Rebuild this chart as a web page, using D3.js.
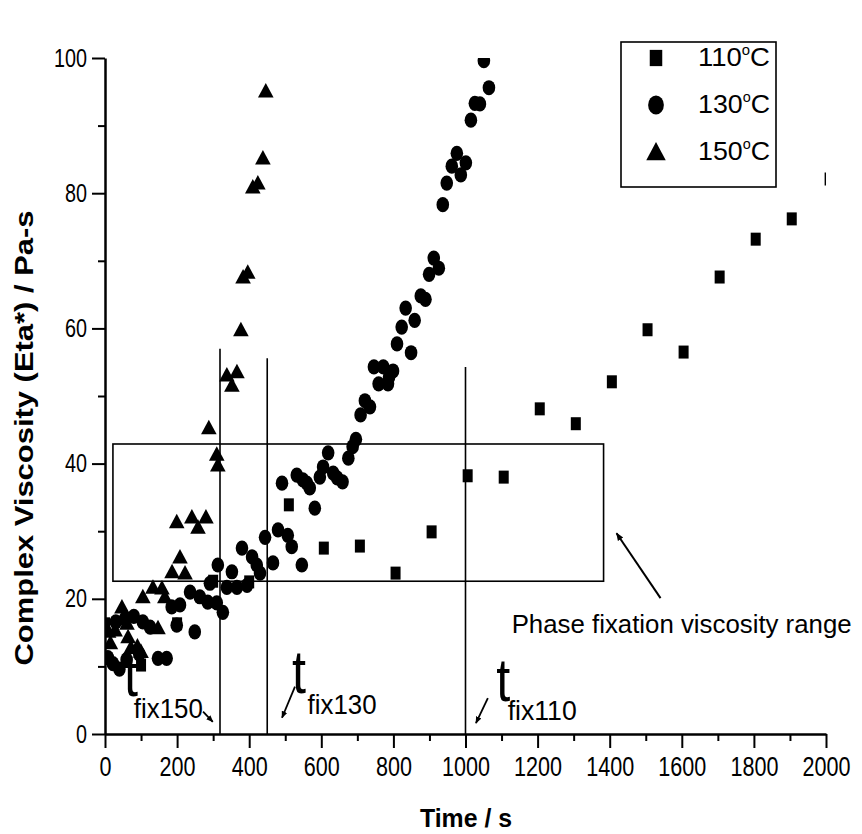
<!DOCTYPE html>
<html>
<head>
<meta charset="utf-8">
<script src="https://cdn.jsdelivr.net/npm/d3@7"></script>
<style>
  body { margin: 0; background: #fff; }
  svg text { font-family: "Liberation Sans", Arial, sans-serif; fill: #000; }
</style>
</head>
<body>
<div class="viscosity-viz"></div>
<script>
const WIDTH = 862,
    HEIGHT = 834;

// tick values
const xTickValues = [0, 200, 400, 600, 800, 1000, 1200, 1400, 1600, 1800, 2000];
const xMinorTicks = [100, 300, 500, 700, 900, 1100, 1300, 1500, 1700, 1900];
const yTickValues = [0, 20, 40, 60, 80, 100];
const yMinorTicks = [10, 30, 50, 70, 90];

// series: [time (s), complex viscosity (Pa-s)]
const seriesNames = ["110", "130", "150"];
const visc110 = [
    [0, 16.3], [100, 10.2], [200, 16.3], [300, 22.6], [400, 22.5], [510, 33.9],
    [607, 27.5], [707, 27.8], [806, 23.8], [906, 29.9], [1006, 38.2], [1106, 38.0],
    [1206, 48.1], [1306, 45.9], [1406, 52.1], [1505, 59.8], [1605, 56.5],
    [1705, 67.6], [1805, 73.2], [1905, 76.2], [2010, 82.1]
];
const visc130 = [
    [8, 11.3], [22, 10.4], [40, 9.6], [60, 11.0], [95, 11.8], [147, 11.2], [171, 11.2],
    [30, 16.6], [55, 17.0], [80, 17.4], [105, 16.6], [125, 15.8], [249, 15.1],
    [185, 18.8], [208, 19.1], [199, 16.1], [236, 21.0], [263, 20.3], [285, 19.5],
    [310, 19.4], [327, 18.0], [291, 22.3], [313, 25.0], [338, 21.7], [352, 24.0],
    [366, 21.7], [380, 27.5], [394, 22.0], [408, 26.2], [421, 25.0], [430, 23.8],
    [444, 29.1], [466, 25.3], [480, 30.2], [507, 29.4], [518, 27.7], [546, 25.0],
    [491, 37.1], [532, 38.3], [549, 37.6], [560, 37.1], [568, 36.4], [582, 33.4],
    [596, 38.0], [605, 39.5], [619, 41.6], [633, 38.6], [644, 37.9], [659, 37.3],
    [675, 40.8], [687, 42.5], [696, 43.6], [709, 47.2], [721, 49.3], [735, 48.4],
    [746, 54.3], [759, 51.8], [772, 54.3], [785, 51.8], [788, 52.8], [799, 53.7],
    [810, 57.7], [823, 60.2], [834, 63.0], [849, 56.4], [859, 61.2], [876, 64.8],
    [889, 64.3], [899, 68.0], [912, 70.4], [926, 68.9], [937, 78.3], [948, 81.5],
    [962, 84.0], [976, 85.9], [987, 82.7], [1001, 84.5], [1015, 90.8], [1026, 93.3],
    [1040, 93.2], [1065, 95.6], [1051, 99.6]
];
const visc150 = [
    [10, 15.2], [28, 15.4], [15, 13.5], [47, 18.8], [61, 16.4], [64, 14.4], [72, 12.8],
    [90, 13.0], [100, 12.2], [105, 20.3], [133, 21.7], [147, 15.7], [158, 21.6],
    [166, 20.3], [186, 24.0], [208, 26.2], [222, 23.8], [199, 31.4], [241, 32.1],
    [258, 30.6], [280, 32.1], [288, 45.3], [313, 39.8], [310, 41.4], [338, 53.1],
    [352, 51.6], [366, 53.6], [377, 59.8], [383, 67.6], [396, 68.3], [410, 80.9],
    [424, 81.5], [438, 85.2], [446, 95.1]
];

// annotations (data units)
const fixTimes = [319, 450, 1000];
const fixLineTops = [57.0, 55.6, 54.3];
const fixLabels = ["fix150", "fix130", "fix110"];
const fixLabelPos = [[53, 5.6, 80, 2.4], [519, 6.0, 562, 3.0], [1085, 4.9, 1117, 2.0]];
const fixArrows = [[272, 3.3, 299, 1.8], [527, 7.0, 491, 2.4], [1062, 5.3, 1029, 1.6]];
const rangeBox = [22, 1383, 22.6, 42.9];
const rangeArrow = [1541, 20.1, 1419, 29.7];
const rangeText = "Phase fixation viscosity range";

const svg = d3.select(".viscosity-viz")
    .append("svg")
    .attr("width", WIDTH)
    .attr("height", HEIGHT)
    .style("display", "block");

svg.append("rect").attr("width", WIDTH).attr("height", HEIGHT).attr("fill", "#fff");

const x = d3.scaleLinear().domain([0, 2000]).range([105, 826]);
const y = d3.scaleLinear().domain([0, 100]).range([734, 58]);

svg.append("defs").append("clipPath").attr("id", "plot-clip")
    .append("rect")
    .attr("x", x(0)).attr("y", y(100))
    .attr("width", x(2000) - x(0)).attr("height", y(0) - y(100));

svg.select("defs").append("marker")
    .attr("id", "head")
    .attr("viewBox", "0 0 10 10")
    .attr("refX", 9).attr("refY", 5)
    .attr("markerWidth", 4).attr("markerHeight", 4)
    .attr("markerUnits", "strokeWidth")
    .attr("orient", "auto")
    .append("path").attr("d", "M0,1 L10,5 L0,9 Z").attr("fill", "#000");

// axes
function styleAxis(g) {
    g.select(".domain").attr("stroke", "#000").attr("stroke-width", 2.5);
    g.selectAll(".tick line").attr("stroke", "#000").attr("stroke-width", 2);
}

const xAxis = svg.append("g")
    .attr("transform", `translate(0,${y(0)})`)
    .call(d3.axisBottom(x).tickValues(xTickValues).tickFormat(d3.format("d"))
        .tickSize(14).tickSizeOuter(0).tickPadding(9));
xAxis.call(styleAxis);
xAxis.selectAll("text")
    .attr("font-size", 27)
    .attr("textLength", d => String(d).length * 12)
    .attr("lengthAdjust", "spacingAndGlyphs");

svg.append("g")
    .attr("transform", `translate(0,${y(0)})`)
    .call(d3.axisBottom(x).tickValues(xMinorTicks).tickSize(7).tickFormat(""))
    .call(g => g.select(".domain").remove())
    .call(styleAxis);

const yAxis = svg.append("g")
    .attr("transform", `translate(${x(0)},0)`)
    .call(d3.axisLeft(y).tickValues(yTickValues).tickFormat(d3.format("d"))
        .tickSize(13).tickSizeOuter(0).tickPadding(5));
yAxis.call(styleAxis);
yAxis.selectAll("text")
    .attr("font-size", 25)
    .attr("textLength", d => String(d).length * 11)
    .attr("lengthAdjust", "spacingAndGlyphs");

svg.append("g")
    .attr("transform", `translate(${x(0)},0)`)
    .call(d3.axisLeft(y).tickValues(yMinorTicks).tickSize(7).tickFormat(""))
    .call(g => g.select(".domain").remove())
    .call(styleAxis);

// axis titles
svg.append("text")
    .attr("x", 466).attr("y", 827)
    .attr("text-anchor", "middle")
    .attr("font-size", 26).attr("font-weight", "bold")
    .attr("textLength", 92).attr("lengthAdjust", "spacingAndGlyphs")
    .text("Time / s");

svg.append("text")
    .attr("transform", "translate(33,438) rotate(-90)")
    .attr("text-anchor", "middle")
    .attr("font-size", 26).attr("font-weight", "bold")
    .attr("textLength", 455).attr("lengthAdjust", "spacingAndGlyphs")
    .text("Complex Viscosity (Eta*) / Pa-s");

// reference lines and box
const ref = svg.append("g").attr("stroke", "#000").attr("stroke-width", 1.6).attr("fill", "none");
fixTimes.forEach((t, i) => {
    ref.append("line")
        .attr("x1", x(t)).attr("x2", x(t))
        .attr("y1", y(fixLineTops[i])).attr("y2", y(0));
});
ref.append("rect")
    .attr("x", x(rangeBox[0])).attr("y", y(rangeBox[3]))
    .attr("width", x(rangeBox[1]) - x(rangeBox[0]))
    .attr("height", y(rangeBox[2]) - y(rangeBox[3]));

// markers
const plot = svg.append("g").attr("clip-path", "url(#plot-clip)");

function drawMarker(g, type, cx, cy, s) {
    if (type === "110") {
        g.append("rect").attr("x", cx - 5 * s).attr("y", cy - 6.5 * s)
            .attr("width", 10 * s).attr("height", 13 * s).attr("fill", "#000");
    } else if (type === "130") {
        g.append("ellipse").attr("cx", cx).attr("cy", cy)
            .attr("rx", 6.3 * s).attr("ry", 7.6 * s).attr("fill", "#000");
    } else {
        g.append("path")
            .attr("d", `M${cx},${cy - 8 * s} L${cx + 7.8 * s},${cy + 6.5 * s} L${cx - 7.8 * s},${cy + 6.5 * s} Z`)
            .attr("fill", "#000");
    }
}

[visc110, visc130, visc150].forEach((series, i) => {
    series.forEach(d => drawMarker(plot, seriesNames[i], x(d[0]), y(d[1]), 1));
});

// fixation time labels
fixLabels.forEach((lab, i) => {
    const p = fixLabelPos[i];
    svg.append("text")
        .attr("x", x(p[0])).attr("y", y(p[1]))
        .attr("font-size", 62)
        .attr("textLength", 14).attr("lengthAdjust", "spacingAndGlyphs")
        .text("t");
    svg.append("text")
        .attr("x", x(p[2])).attr("y", y(p[3]))
        .attr("font-size", 27)
        .attr("textLength", 69).attr("lengthAdjust", "spacingAndGlyphs")
        .text(lab);
    const a = fixArrows[i];
    svg.append("line")
        .attr("x1", x(a[0])).attr("y1", y(a[1]))
        .attr("x2", x(a[2])).attr("y2", y(a[3]))
        .attr("stroke", "#000").attr("stroke-width", 1.8)
        .attr("marker-end", "url(#head)");
});

svg.append("line")
    .attr("x1", x(rangeArrow[0])).attr("y1", y(rangeArrow[1]))
    .attr("x2", x(rangeArrow[2])).attr("y2", y(rangeArrow[3]))
    .attr("stroke", "#000").attr("stroke-width", 2)
    .attr("marker-end", "url(#head)");

svg.append("text")
    .attr("x", x(1128)).attr("y", y(14.9))
    .attr("font-size", 26)
    .attr("textLength", 340).attr("lengthAdjust", "spacingAndGlyphs")
    .text(rangeText);

// legend
const legend = svg.append("g").attr("transform", "translate(621,42)");
legend.append("rect")
    .attr("width", 155).attr("height", 145)
    .attr("fill", "#fff").attr("stroke", "#000").attr("stroke-width", 1.6);

seriesNames.forEach((name, i) => {
    const cy = 16 + i * 47;
    drawMarker(legend, name, 35, cy, 1.25);
    const txt = legend.append("text")
        .attr("x", 77).attr("y", cy + 8)
        .attr("font-size", 26)
        .attr("textLength", 72).attr("lengthAdjust", "spacingAndGlyphs");
    txt.append("tspan").text(name);
    txt.append("tspan").attr("font-size", 14).attr("dy", -11).text("o");
    txt.append("tspan").attr("dy", 11).text("C");
});
</script>
</body>
</html>
